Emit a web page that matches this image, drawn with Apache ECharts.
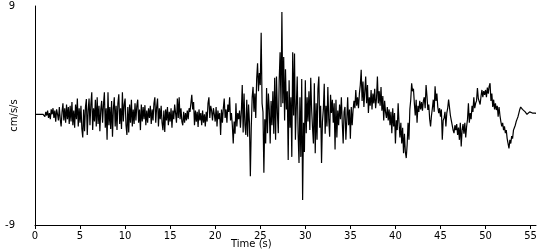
<!DOCTYPE html>
<html>
<head>
<meta charset="utf-8">
<script src="https://cdn.jsdelivr.net/npm/echarts@6/dist/echarts.min.js"></script>
<style>html,body{margin:0;padding:0;background:#fff}#c{width:550px;height:250px}</style>
</head>
<body>
<div id="c"></div>
<script>
// Sampling step of the record (s)
const sampleStep = 0.1;
// Acceleration samples (cm/s/s), 10 per second
const accel0to10 = [
0.1,0.1,0.1,0.1,0.1,0.1,0.1,0.1,0.1,0.1,
0.2,-0.1,0.3,0,0.4,-0.2,0.2,-0.3,0.5,0.1,
0.6,-0.2,0.4,-0.5,0.5,0.1,-0.4,0.7,-0.3,-0.9,
0.3,1.0,-0.4,0.6,-0.6,0.9,-0.3,0.7,-0.7,0.8,
-0.5,1.1,-0.8,0.4,-1.0,0.9,-0.3,1.4,-0.9,0.6,
-0.6,0.8,-1.1,-1.8,0.5,-1.3,0.7,1.35,-1.6,0.4,
1.4,-0.8,0.9,1.9,-1.2,0.6,-0.5,1.3,-0.9,1.5,
-0.7,0.8,-1.3,0.5,1.2,-0.6,0.9,1.9,-1.0,0.6,
-2.0,1.9,-0.8,0.7,-1.1,1.2,-1.75,0.6,1.5,-0.9,
0.8,-1.2,1.0,1.75,-0.7,0.6,-1.1,1.9,-0.5,0.9
];
const accel10to20 = [
1.4,-0.8,-1.6,0.7,-1.4,0.9,-0.6,1.3,-0.9,0.5,
-0.7,1.0,-0.4,0.8,1.3,-0.6,0.5,-1.2,0.9,-0.5,
0.7,-0.3,0.85,-0.8,0.4,-0.6,0.6,-0.2,0.8,-0.7,
0.5,-0.4,1.0,1.5,-0.6,0.7,1.4,-0.9,0.6,-0.3,
0.8,-0.6,-1.2,0.4,-1.35,0.5,-0.4,0.7,-0.8,0.3,
-0.5,0.6,-1.0,0.4,-0.3,0.9,0.2,-0.6,1.4,-0.2,
1.5,-0.3,0.6,-0.5,-0.8,0.3,-0.6,0.2,-0.4,0.4,
-0.3,0.6,0.3,1.0,1.7,0.5,1.1,-0.8,0.4,-0.5,
0.3,-0.95,0.5,-0.4,0.2,-0.8,0.4,-0.6,0.1,-0.9,
0.3,-0.5,1.0,1.5,-0.2,0.8,0.4,-0.4,0.6,0.1
];
const accel20to30 = [
-0.5,0.7,-0.9,0.4,-0.3,0.2,-1.6,0.5,-0.6,0.6,
1.4,-0.2,0.5,-0.6,0.9,0.3,1.5,-0.4,0.2,-0.8,
-2.3,-0.5,-1.5,1.0,-0.9,0.2,-0.3,0.4,-1.0,0.3,
2.5,-1.4,1.8,-0.8,-1.6,1.3,-1.75,0.9,-0.6,-5.0,
-1.0,1.5,2.35,0.3,1.8,-0.2,3.0,4.3,2.0,3.5,
2.5,6.8,1.0,0.3,-4.7,-0.3,-2.3,2.25,-1.45,1.8,
0.5,-2.3,1.2,-0.8,2.0,-1.5,3.1,-2.0,3.2,0.2,
-1.45,2.9,5.2,0.7,8.5,1.0,4.8,-0.4,3.8,0.5,
2.0,-3.65,2.9,-1.0,1.5,-3.4,5.2,0.0,5.1,-2.0,
0.7,3.2,-1.5,-3.9,1.5,-3.4,3.0,-6.95,-0.6,-3.0
];
const accel30to40 = [
2.9,-1.45,1.5,-0.5,2.0,-1.2,3.1,0.5,-1.0,-2.3,
2.65,-3.1,1.0,-2.0,2.2,3.2,-1.0,0.8,-3.9,-0.5,
0.5,2.6,-1.5,0.8,-0.9,2.35,-0.3,-1.75,1.7,0.2,
1.3,-0.6,1.0,-2.8,1.3,-1.8,0.4,-0.8,0.9,-0.3,
1.5,-0.6,-2.3,0.3,0.7,-2.0,-0.4,1.5,-0.8,0.5,
-1.9,0.7,-0.8,0.45,1.2,0.6,2.1,0.8,1.5,0.6,
1.8,2.5,3.75,1.2,2.8,0.7,2.0,3.2,1.0,2.5,
0.2,1.5,0.8,2.1,0.5,1.8,1.0,2.2,0.6,1.4,
3.2,1.0,2.0,0.8,2.35,0.4,1.6,-0.4,1.2,0.3,
-0.2,0.7,-0.4,0.5,-0.8,0.3,-1.45,0.6,-0.9,0.2
];
const accel40to50 = [
-2.3,-0.4,-1.2,1.0,-0.6,-1.8,-0.6,-2.3,-1.0,-3.1,
-1.5,-3.0,-3.5,-2.4,-0.6,-2.0,0.5,1.3,2.65,2.0,
2.2,1.0,0.0,1.3,-0.6,0.8,0.3,1.2,0.5,1.1,
0.4,1.2,1.5,0.6,2.5,1.6,0.45,0.9,-0.3,-0.9,
0.0,0.6,1.3,0.3,2.4,1.2,1.8,0.7,0.2,0.6,
-0.1,0.5,-2.0,-0.4,-0.2,0.3,-0.9,0.2,0.6,1.3,
1.3,0.0,-0.4,-0.8,-1.2,-1.45,-0.8,-1.2,-0.7,-1.6,
-1.0,-2.0,-0.6,-2.55,-1.2,-0.7,-1.5,-0.6,-1.8,-0.9,
-0.3,1.0,-0.6,0.2,-0.3,0.8,0.3,1.5,0.6,1.0,
1.2,2.25,1.4,1.3,0.9,1.6,2.1,1.5,2.0,1.7
];
const accel50to56 = [
2.1,1.5,2.3,1.8,2.4,2.65,1.2,1.8,0.7,1.3,
0.5,1.0,0.45,0.8,-0.1,0.7,0.0,-0.5,-0.9,-0.6,
-1.2,-0.9,-1.45,-1.2,-1.9,-2.0,-2.7,-2.0,-2.3,-1.7,
-1.9,-1.2,-1.0,-0.8,-0.5,-0.3,-0.1,0.2,0.5,0.7,
0.6,0.5,0.4,0.4,0.3,0.3,0.1,0.05,0.15,0.3,
0.2,0.2,0.2,0.2,0.2,0.2,0.18
];
const xTicks = [0,5,10,15,20,25,30,35,40,45,50,55];
const yTickLabels = [-9, 9];

const accel = [].concat(accel0to10, accel10to20, accel20to30, accel30to40, accel40to50, accel50to56);
const seriesData = accel.map((v, i) => [+(i * sampleStep).toFixed(1), v]);
const tMax = seriesData[seriesData.length - 1][0];

const font = 'DejaVu Sans';
const chart = echarts.init(document.getElementById('c'), null, {renderer: 'canvas'});
chart.setOption({
  animation: false,
  backgroundColor: '#ffffff',
  grid: {left: 35, right: 550 - 536, top: 6, bottom: 25, containLabel: false, outerBoundsMode: 'none'},
  xAxis: {
    type: 'value', min: 0, max: tMax, interval: 5,
    axisLine: {show: true, onZero: false, lineStyle: {color: '#000', width: 1}},
    axisTick: {show: true, inside: false, length: 4, lineStyle: {color: '#000'}},
    axisLabel: {
      color: '#000', fontFamily: font, fontSize: 10, margin: 6,
      showMaxLabel: false,
      formatter: v => (xTicks.indexOf(v) >= 0 ? String(v) : '')
    },
    splitLine: {show: false}
  },
  yAxis: {
    type: 'value', min: -9, max: 9, interval: 9,
    name: 'cm/s/s', nameLocation: 'middle', nameRotate: 90, nameGap: 16,
    nameMoveOverlap: false,
    nameTextStyle: {color: '#000', fontFamily: font, fontSize: 10},
    axisLine: {show: true, onZero: false, lineStyle: {color: '#000', width: 1}},
    axisTick: {show: false},
    axisLabel: {
      color: '#000', fontFamily: font, fontSize: 10, margin: 20,
      formatter: v => (yTickLabels.indexOf(v) >= 0 ? String(v) : '')
    },
    splitLine: {show: false}
  },
  graphic: [{
    type: 'text', left: 231, top: 239,
    style: {text: 'Time (s)', fill: '#000', font: '10px "DejaVu Sans"'}
  }],
  series: [{
    type: 'line', data: seriesData, showSymbol: false, symbol: 'none',
    lineStyle: {color: '#000', width: 1.2}, smooth: false
  }]
});
</script>
</body>
</html>
